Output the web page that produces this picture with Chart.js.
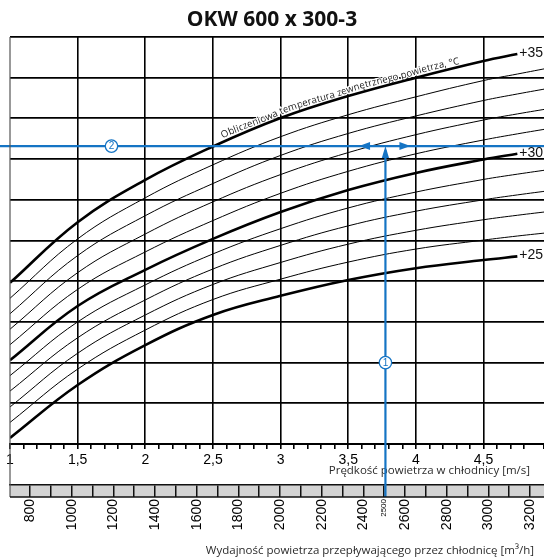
<!DOCTYPE html>
<html>
<head>
<meta charset="utf-8">
<title>OKW 600 x 300-3</title>
<script src="https://cdn.jsdelivr.net/npm/chart.js@4.4.1/dist/chart.umd.min.js"></script>
<style>
    html, body { margin: 0; padding: 0; background: #fff; overflow: hidden; }
    #wrap { width: 544px; height: 558px; }
</style>
</head>
<body>
<div id="wrap"><canvas id="chart" width="544" height="558"></canvas></div>
<script>
// Prędkość powietrza w chłodnicy [m/s] - punkty odczytu krzywych
const speeds = [1, 1.5, 2, 2.5, 3, 3.5, 4, 4.5, 4.75, 5];

// Krzywe temperatury zewnętrznej (w działkach siatki, 0 = dół, 10 = góra)
const t35 = [3.96, 5.45, 6.49, 7.31, 8.01, 8.55, 9.00, 9.41, 9.58];
const t34 = [3.58, 5.04, 6.05, 6.86, 7.55, 8.09, 8.53, 8.93, 9.09, 9.25];
const t33 = [3.20, 4.63, 5.61, 6.40, 7.09, 7.63, 8.06, 8.44, 8.60, 8.75];
const t32 = [2.82, 4.21, 5.16, 5.95, 6.62, 7.16, 7.60, 7.96, 8.11, 8.25];
const t31 = [2.44, 3.80, 4.72, 5.49, 6.16, 6.70, 7.13, 7.47, 7.62, 7.76];
const t30 = [2.06, 3.39, 4.28, 5.04, 5.70, 6.24, 6.66, 6.99, 7.13];
const t29 = [1.68, 3.00, 3.91, 4.67, 5.29, 5.80, 6.19, 6.50, 6.63, 6.75];
const t28 = [1.30, 2.61, 3.54, 4.30, 4.88, 5.36, 5.72, 6.00, 6.12, 6.23];
const t27 = [0.91, 2.23, 3.17, 3.92, 4.46, 4.91, 5.25, 5.51, 5.62, 5.72];
const t26 = [0.53, 1.84, 2.80, 3.55, 4.05, 4.47, 4.79, 5.01, 5.11, 5.20];
const t25 = [0.15, 1.45, 2.43, 3.17, 3.64, 4.03, 4.32, 4.52, 4.61];

const thickCurves = [[t35, '+35'], [t30, '+30'], [t25, '+25']];
const thinCurves = [t34, t33, t32, t31, t29, t28, t27, t26];

// Osie
const speedMin = 1, speedMax = 4.947;
const speedLabels = [1, 1.5, 2, 2.5, 3, 3.5, 4, 4.5, 5];
const flowMin = 704, flowMax = 3267;
const flowDividers = [800, 900, 1000, 1100, 1200, 1300, 1400, 1500, 1600, 1700, 1800, 1900,
    2000, 2100, 2200, 2300, 2400, 2500, 2600, 2700, 2800, 2900, 3000, 3100, 3200];
const flowLabels = [800, 1000, 1200, 1400, 1600, 1800, 2000, 2200, 2400, 2600, 2800, 3000, 3200];

// Przykład odczytu (niebieskie linie)
const markFlow = 2500;
const markSpeed = 3.775;
const markLevel = 7.32;
const markOneLevel = 2;
const markTwoSpeed = 1.75;
const arrowLeft = 3.58, arrowRight = 3.96;

const blue = '#1574c4';
const sansFont = '"Liberation Sans", Arial, sans-serif';
const textFont = '"Open Sans", "Noto Sans", sans-serif';

function toPoints(values) {
    return values.map((v, i) => ({ x: speeds[i], y: v }));
}

function isHalf(v) {
    return Math.abs(v * 2 - Math.round(v * 2)) < 1e-6;
}

function fmtSpeed(v) {
    return String(Math.round(v * 10) / 10).replace('.', ',');
}

const datasets = [
    {
        data: [{ x: 0.9, y: markLevel }, { x: 5, y: markLevel }],
        borderColor: blue, borderWidth: 2.2, pointRadius: 0, clip: false, order: 0
    },
    {
        data: [{ x: markSpeed, y: -1.3 }, { x: markSpeed, y: markLevel - 0.1 }],
        borderColor: blue, borderWidth: 2.2, pointRadius: 0, clip: false, order: 0
    }
];
thickCurves.forEach(([vals, label]) => {
    datasets.push({
        label, data: toPoints(vals), borderColor: '#000', borderWidth: 2.6,
        pointRadius: 0, tension: 0.4, order: 1
    });
});
thinCurves.forEach(vals => {
    datasets.push({
        data: toPoints(vals), borderColor: '#000', borderWidth: 1,
        pointRadius: 0, tension: 0.4, order: 2
    });
});

// Tekst wzdłuż krzywej +35
function drawCurveText(chart, meta, text, startPx, lift) {
    const ctx = chart.ctx;
    const line = meta.dataset;
    line.updateControlPoints(chart.chartArea, 'x');
    const pts = [];
    let s = 0, prev = null;
    for (let px = startPx; px < chart.chartArea.right; px += 0.5) {
        const p = line.interpolate({ x: px }, 'x');
        if (!p || Array.isArray(p)) continue;
        if (prev) s += Math.hypot(px - prev.x, p.y - prev.y);
        pts.push({ x: px, y: p.y, s });
        prev = { x: px, y: p.y };
    }
    ctx.save();
    ctx.font = '9.7px ' + textFont;
    ctx.fillStyle = '#222';
    ctx.strokeStyle = '#fff';
    ctx.lineWidth = 2.5;
    ctx.textAlign = 'center';
    ctx.textBaseline = 'alphabetic';
    let pos = 0;
    for (const ch of text) {
        const w = ctx.measureText(ch).width;
        const mid = pos + w / 2;
        let k = pts.findIndex(p => p.s >= mid);
        if (k < 0) break;
        const a = pts[Math.max(k - 3, 0)], b = pts[Math.min(k + 3, pts.length - 1)];
        const ang = Math.atan2(b.y - a.y, b.x - a.x);
        const p = pts[k];
        ctx.save();
        ctx.translate(p.x + Math.sin(ang) * lift, p.y - Math.cos(ang) * lift);
        ctx.rotate(ang);
        if (ch !== ' ') {
            ctx.strokeText(ch, 0, 0);
            ctx.fillText(ch, 0, 0);
        }
        ctx.restore();
        pos += w;
    }
    ctx.restore();
}

function badge(ctx, x, y, label) {
    ctx.beginPath();
    ctx.arc(x, y, 6.2, 0, Math.PI * 2);
    ctx.fillStyle = '#fff';
    ctx.fill();
    ctx.lineWidth = 1.3;
    ctx.strokeStyle = blue;
    ctx.stroke();
    ctx.fillStyle = blue;
    ctx.font = '10px ' + sansFont;
    ctx.textAlign = 'center';
    ctx.textBaseline = 'middle';
    ctx.fillText(label, x, y + 0.5);
}

function arrow(ctx, tip, base, half, vertical) {
    ctx.beginPath();
    if (vertical) {
        ctx.moveTo(tip.x, tip.y);
        ctx.lineTo(tip.x - half, base);
        ctx.lineTo(tip.x + half, base);
    } else {
        ctx.moveTo(tip.x, tip.y);
        ctx.lineTo(base, tip.y - half);
        ctx.lineTo(base, tip.y + half);
    }
    ctx.closePath();
    ctx.fillStyle = blue;
    ctx.fill();
}

const decoPlugin = {
    id: 'deco',
    beforeDraw(chart) {
        const { ctx, chartArea } = chart;
        const x2 = chart.scales.x2;
        ctx.save();
        ctx.fillStyle = '#d3d3d3';
        ctx.fillRect(chartArea.left, x2.top, chart.width - chartArea.left, 12);
        ctx.restore();
    },
    beforeDatasetsDraw(chart) {
        const { ctx } = chart;
        const x = chart.scales.x;
        // napis wzdłuż krzywej +35
        const meta35 = chart.getDatasetMeta(2);
        drawCurveText(chart, meta35, 'Obliczeniowa temperatura zewnętrznego powietrza, °C', x.getPixelForValue(2.58), 3);

        ctx.save();
        ctx.fillStyle = '#2b2b2b';
        ctx.font = '11.5px ' + textFont;
        ctx.textAlign = 'right';
        ctx.textBaseline = 'alphabetic';
        ctx.fillText('Prędkość powietrza w chłodnicy [m/s]', 530, 474);
        ctx.fillText('Wydajność powietrza przepływającego przez chłodnicę [m³/h]', 534, 554);

        ctx.fillStyle = '#111';
        ctx.font = 'bold 21px ' + textFont;
        ctx.textAlign = 'center';
        ctx.fillText('OKW 600 x 300-3', 272, 26);
        ctx.restore();
    },
    afterDraw(chart) {
        const { ctx, chartArea } = chart;
        const x = chart.scales.x, y = chart.scales.y, x2 = chart.scales.x2;
        ctx.save();
        // ramka
        ctx.strokeStyle = '#555';
        ctx.lineWidth = 1.2;
        ctx.beginPath();
        ctx.moveTo(chartArea.left, chartArea.top);
        ctx.lineTo(chartArea.left, x2.top + 12);
        ctx.stroke();
        ctx.strokeStyle = '#111';
        ctx.lineWidth = 1.5;
        ctx.beginPath();
        ctx.moveTo(chartArea.left, x2.top + 12);
        ctx.lineTo(chart.width, x2.top + 12);
        ctx.stroke();

        // etykiety krzywych
        ctx.font = '14px ' + sansFont;
        ctx.textAlign = 'left';
        ctx.textBaseline = 'middle';
        thickCurves.forEach(([vals, label]) => {
            const i = vals.length - 1;
            const px = x.getPixelForValue(speeds[i]) + 2;
            const py = y.getPixelForValue(vals[i]) - 1;
            const w = ctx.measureText(label).width;
            ctx.fillStyle = '#fff';
            ctx.fillRect(px, py - 5, w + 1, 10);
            ctx.fillStyle = '#111';
            ctx.fillText(label, px, py);
        });

        // strzałki
        const mx = x.getPixelForValue(markSpeed);
        const my = y.getPixelForValue(markLevel);
        arrow(ctx, { x: mx, y: my }, my + 12, 3.6, true);
        const la = x.getPixelForValue(arrowLeft);
        arrow(ctx, { x: la, y: my }, la + 11, 4, false);
        const ra = x.getPixelForValue(arrowRight);
        arrow(ctx, { x: ra, y: my }, ra - 11, 4, false);

        badge(ctx, mx, y.getPixelForValue(markOneLevel), '1');
        badge(ctx, x.getPixelForValue(markTwoSpeed), my, '2');
        ctx.restore();
    }
};

new Chart(document.getElementById('chart'), {
    type: 'line',
    data: { datasets },
    options: {
        responsive: false,
        animation: false,
        events: [],
        layout: { padding: { left: 10, top: 37, right: 0, bottom: 0 } },
        plugins: { legend: { display: false }, tooltip: { enabled: false }, title: { display: false } },
        scales: {
            x: {
                type: 'linear', position: 'bottom', min: speedMin, max: speedMax, weight: 0,
                grid: {
                    color: c => (c.tick && isHalf(c.tick.value) && c.tick.value > 1.01) ? '#000' : 'rgba(0,0,0,0)',
                    tickColor: '#000', lineWidth: 1.6, tickLength: 5, drawTicks: true
                },
                border: { display: true, color: '#000', width: 2 },
                ticks: {
                    stepSize: 0.1, maxTicksLimit: 100, autoSkip: false, maxRotation: 0, minRotation: 0,
                    padding: 3, color: '#000', font: { family: sansFont, size: 14 },
                    callback: v => (isHalf(v) && speedLabels.some(s => Math.abs(s - v) < 1e-6)) ? fmtSpeed(v) : ''
                },
                afterFit: s => { s.height = 41; s.paddingLeft = 0; s.paddingRight = 0; }
            },
            x2: {
                type: 'linear', position: 'bottom', min: flowMin, max: flowMax, weight: 1,
                grid: { drawOnChartArea: false, tickColor: '#111', color: '#111', lineWidth: 1.5, tickLength: 12 },
                border: { display: true, color: '#111', width: 1.5 },
                afterBuildTicks: s => { s.ticks = flowDividers.map(value => ({ value })); },
                ticks: {
                    autoSkip: false, minRotation: 90, maxRotation: 90, padding: 2, color: '#000',
                    font: c => ({ family: sansFont, size: (c.tick && c.tick.value === markFlow) ? 8 : 14 }),
                    callback: v => (flowLabels.includes(v) || v === markFlow) ? String(v) : ''
                },
                afterFit: s => { s.height = 73; s.paddingLeft = 0; s.paddingRight = 0; }
            },
            y: {
                type: 'linear', min: 0, max: 10,
                grid: { color: '#000', lineWidth: 1.8, drawTicks: false },
                border: { display: false },
                ticks: { display: false, stepSize: 1 }
            }
        }
    },
    plugins: [decoPlugin]
});
</script>
</body>
</html>
